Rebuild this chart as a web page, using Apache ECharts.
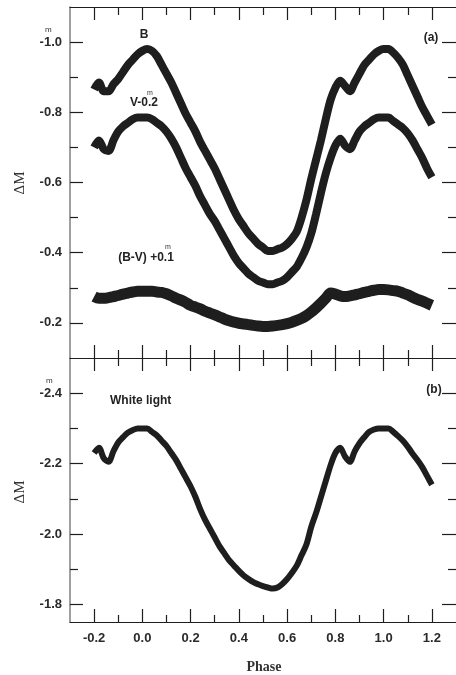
<!DOCTYPE html>
<html>
<head>
<meta charset="utf-8">
<script src="https://cdn.jsdelivr.net/npm/echarts@6/dist/echarts.min.js"></script>
<style>
html,body{margin:0;padding:0;background:#fff;}
#chart{width:456px;height:675px;}
</style>
</head>
<body>
<div id="chart"></div>
<script>
// Phase grid used for the read-off values
const phase = [-0.20,-0.18,-0.16,-0.14,-0.12,-0.10,-0.08,-0.06,-0.04,-0.02,
  0.00,0.02,0.04,0.06,0.08,0.10,0.12,0.14,0.16,0.18,
  0.20,0.22,0.24,0.26,0.28,0.30,0.32,0.34,0.36,0.38,
  0.40,0.42,0.44,0.46,0.48,0.50,0.52,0.54,0.56,0.58,
  0.60,0.62,0.64,0.66,0.68,0.70,0.72,0.74,0.76,0.78,
  0.80,0.82,0.84,0.86,0.88,0.90,0.92,0.94,0.96,0.98,
  1.00,1.02,1.04,1.06,1.08,1.10,1.12,1.14,1.16,1.18,1.20];

const bMag = [-0.865,-0.885,-0.86,-0.86,-0.88,-0.895,-0.915,-0.935,-0.95,-0.965,
  -0.975,-0.98,-0.975,-0.96,-0.935,-0.91,-0.885,-0.855,-0.825,-0.795,
  -0.77,-0.745,-0.715,-0.69,-0.665,-0.64,-0.61,-0.58,-0.55,-0.52,
  -0.495,-0.475,-0.455,-0.44,-0.425,-0.415,-0.405,-0.405,-0.41,-0.415,
  -0.425,-0.44,-0.46,-0.50,-0.55,-0.61,-0.665,-0.72,-0.78,-0.835,
  -0.87,-0.89,-0.875,-0.86,-0.885,-0.91,-0.935,-0.95,-0.965,-0.975,
  -0.98,-0.98,-0.97,-0.955,-0.935,-0.905,-0.875,-0.845,-0.815,-0.79,-0.765];

const vMag = [-0.70,-0.72,-0.695,-0.69,-0.72,-0.745,-0.76,-0.77,-0.78,-0.785,
  -0.785,-0.785,-0.78,-0.77,-0.76,-0.745,-0.725,-0.70,-0.67,-0.64,
  -0.615,-0.59,-0.56,-0.535,-0.51,-0.49,-0.465,-0.44,-0.415,-0.39,
  -0.37,-0.355,-0.34,-0.33,-0.32,-0.315,-0.31,-0.31,-0.315,-0.32,
  -0.33,-0.345,-0.36,-0.385,-0.415,-0.455,-0.51,-0.57,-0.625,-0.67,
  -0.705,-0.725,-0.705,-0.695,-0.72,-0.745,-0.76,-0.77,-0.78,-0.785,
  -0.785,-0.785,-0.775,-0.765,-0.755,-0.74,-0.72,-0.695,-0.67,-0.64,-0.615];

const bvColor = [-0.275,-0.27,-0.27,-0.272,-0.275,-0.278,-0.282,-0.285,-0.288,-0.29,
  -0.29,-0.29,-0.29,-0.288,-0.287,-0.283,-0.277,-0.27,-0.265,-0.258,
  -0.25,-0.245,-0.24,-0.233,-0.228,-0.223,-0.217,-0.211,-0.206,-0.202,
  -0.199,-0.197,-0.195,-0.193,-0.191,-0.19,-0.19,-0.191,-0.193,-0.195,
  -0.198,-0.202,-0.207,-0.213,-0.221,-0.231,-0.243,-0.256,-0.27,-0.285,
  -0.282,-0.277,-0.275,-0.277,-0.28,-0.283,-0.287,-0.29,-0.293,-0.295,
  -0.295,-0.294,-0.292,-0.29,-0.285,-0.28,-0.273,-0.267,-0.262,-0.256,-0.25];

const whiteLight = [-2.23,-2.245,-2.215,-2.205,-2.235,-2.26,-2.275,-2.288,-2.295,-2.30,
  -2.30,-2.30,-2.29,-2.28,-2.265,-2.25,-2.23,-2.21,-2.185,-2.16,
  -2.135,-2.105,-2.07,-2.04,-2.015,-1.99,-1.965,-1.945,-1.925,-1.91,
  -1.895,-1.882,-1.872,-1.863,-1.857,-1.852,-1.848,-1.845,-1.848,-1.858,
  -1.872,-1.89,-1.91,-1.94,-1.97,-2.02,-2.06,-2.105,-2.15,-2.195,
  -2.23,-2.245,-2.22,-2.205,-2.235,-2.258,-2.275,-2.29,-2.297,-2.30,
  -2.30,-2.30,-2.29,-2.278,-2.265,-2.248,-2.228,-2.21,-2.19,-2.165,-2.14];

const xMajor = [-0.2,0.0,0.2,0.4,0.6,0.8,1.0,1.2];
const xMinor = [-0.1,0.1,0.3,0.5,0.7,0.9,1.1];
const yMajorA = [-1.0,-0.8,-0.6,-0.4,-0.2];
const yMinorA = [-0.9,-0.7,-0.5,-0.3];
const yMajorB = [-2.4,-2.2,-2.0,-1.8];
const yMinorB = [-2.3,-2.1,-1.9];

const INK = '#1e1e1e';
const labelFont = {fontFamily:'Liberation Sans, Arial, sans-serif', fontWeight:'bold', fontSize:13, color:'#2a2a2a'};

function xAx(grid, pos, ticks, len, showLine, showLabel){
  return {
    type:'value', gridIndex:grid, position:pos, min:-0.3, max:1.3,
    axisLine:{show:showLine, onZero:false, lineStyle:{color:INK, width:1.2}},
    axisTick:{show:true, inside:true, length:len, customValues:ticks, lineStyle:{color:INK, width:1.2}},
    axisLabel:Object.assign({show:showLabel, customValues:ticks, margin:10,
      formatter:v=>Number(v).toFixed(1)}, labelFont),
    splitLine:{show:false}
  };
}
function yAx(grid, pos, min, max, ticks, len, showLine, showLabel, lineColor){
  return {
    type:'value', gridIndex:grid, position:pos, min:min, max:max, inverse:true,
    axisLine:{show:showLine, onZero:false, lineStyle:{color:lineColor||INK, width:1.5}},
    axisTick:{show:true, inside:true, length:len, customValues:ticks, lineStyle:{color:INK, width:1.2}},
    axisLabel:Object.assign({show:showLabel, customValues:ticks, margin:8,
      formatter:v=>Number(v).toFixed(1)}, labelFont),
    splitLine:{show:false}
  };
}

function pairs(ys){ return phase.map((p,i)=>[p, ys[i]]); }

const chart = echarts.init(document.getElementById('chart'), null, {renderer:'canvas'});
chart.setOption({
  animation:false,
  backgroundColor:'#fff',
  grid:[
    {left:70, top:7, width:386, height:351},
    {left:70, top:358, width:386, height:264}
  ],
  xAxis:[
    xAx(0,'bottom',xMajor,13,true,false),
    xAx(0,'bottom',xMinor,8,false,false),
    xAx(0,'top',xMajor,13,true,false),
    xAx(0,'top',xMinor,8,false,false),
    xAx(1,'top',xMajor,13,false,false),
    xAx(1,'top',xMinor,8,false,false),
    xAx(1,'bottom',xMajor,13,true,true),
    xAx(1,'bottom',xMinor,7,false,false)
  ],
  yAxis:[
    yAx(0,'left',-1.1,-0.1,yMajorA,13,true,true,'#808080'),
    yAx(0,'left',-1.1,-0.1,yMinorA,8,false,false),
    yAx(0,'right',-1.1,-0.1,yMajorA,14,false,false),
    yAx(0,'right',-1.1,-0.1,yMinorA,8,false,false),
    yAx(1,'left',-2.5,-1.75,yMajorB,13,true,true,'#808080'),
    yAx(1,'left',-2.5,-1.75,yMinorB,8,false,false),
    yAx(1,'right',-2.5,-1.75,yMajorB,14,false,false),
    yAx(1,'right',-2.5,-1.75,yMinorB,8,false,false)
  ],
  series:[
    {name:'B', type:'line', xAxisIndex:0, yAxisIndex:0, data:pairs(bMag), smooth:0.3,
     showSymbol:false, lineStyle:{color:INK, width:8}},
    {name:'V-0.2', type:'line', xAxisIndex:0, yAxisIndex:0, data:pairs(vMag), smooth:0.3,
     showSymbol:false, lineStyle:{color:INK, width:8}},
    {name:'(B-V)+0.1', type:'line', xAxisIndex:0, yAxisIndex:0, data:pairs(bvColor), smooth:0.3,
     showSymbol:false, lineStyle:{color:INK, width:11}},
    {name:'White light', type:'line', xAxisIndex:6, yAxisIndex:4, data:pairs(whiteLight), smooth:0.3,
     showSymbol:false, lineStyle:{color:INK, width:6}}
  ],
  graphic:[
    {type:'text', left:45, top:26, style:{text:'m', fontSize:8, fill:'#333', fontFamily:'Liberation Sans, Arial'}},
    {type:'text', left:46, top:377, style:{text:'m', fontSize:8, fill:'#333', fontFamily:'Liberation Sans, Arial'}},
    {type:'text', x:20, y:183, rotation:Math.PI/2,
     style:{text:'\u0394M', fontSize:15, fill:'#333', fontFamily:'Liberation Serif, Times New Roman, serif', align:'center', verticalAlign:'middle'}},
    {type:'text', x:20, y:492, rotation:Math.PI/2,
     style:{text:'\u0394M', fontSize:15, fill:'#333', fontFamily:'Liberation Serif, Times New Roman, serif', align:'center', verticalAlign:'middle'}},
    {type:'text', x:264, y:667,
     style:{text:'Phase', fontSize:14, fontWeight:'bold', fill:'#333', fontFamily:'Liberation Serif, Times New Roman, serif', align:'center', verticalAlign:'middle'}},
    {type:'text', x:144, y:35,
     style:{text:'B', fontSize:12, fontWeight:'bold', fill:'#222', fontFamily:'Liberation Sans, Arial', align:'center', verticalAlign:'middle'}},
    {type:'text', x:144, y:103,
     style:{text:'V-0.2', fontSize:12, fontWeight:'bold', fill:'#222', fontFamily:'Liberation Sans, Arial', align:'center', verticalAlign:'middle'}},
    {type:'text', x:150, y:93,
     style:{text:'m', fontSize:7, fill:'#333', fontFamily:'Liberation Sans, Arial', align:'center', verticalAlign:'middle'}},
    {type:'text', x:146, y:258,
     style:{text:'(B-V) +0.1', fontSize:12, fontWeight:'bold', fill:'#222', fontFamily:'Liberation Sans, Arial', align:'center', verticalAlign:'middle'}},
    {type:'text', x:168, y:247,
     style:{text:'m', fontSize:7, fill:'#333', fontFamily:'Liberation Sans, Arial', align:'center', verticalAlign:'middle'}},
    {type:'text', x:431, y:38,
     style:{text:'(a)', fontSize:12, fontWeight:'bold', fill:'#222', fontFamily:'Liberation Sans, Arial', align:'center', verticalAlign:'middle'}},
    {type:'text', x:434, y:390,
     style:{text:'(b)', fontSize:12, fontWeight:'bold', fill:'#222', fontFamily:'Liberation Sans, Arial', align:'center', verticalAlign:'middle'}},
    {type:'text', x:110, y:401,
     style:{text:'White light', fontSize:12, fontWeight:'bold', fill:'#222', fontFamily:'Liberation Sans, Arial', align:'left', verticalAlign:'middle'}}
  ]
});
</script>
</body>
</html>
